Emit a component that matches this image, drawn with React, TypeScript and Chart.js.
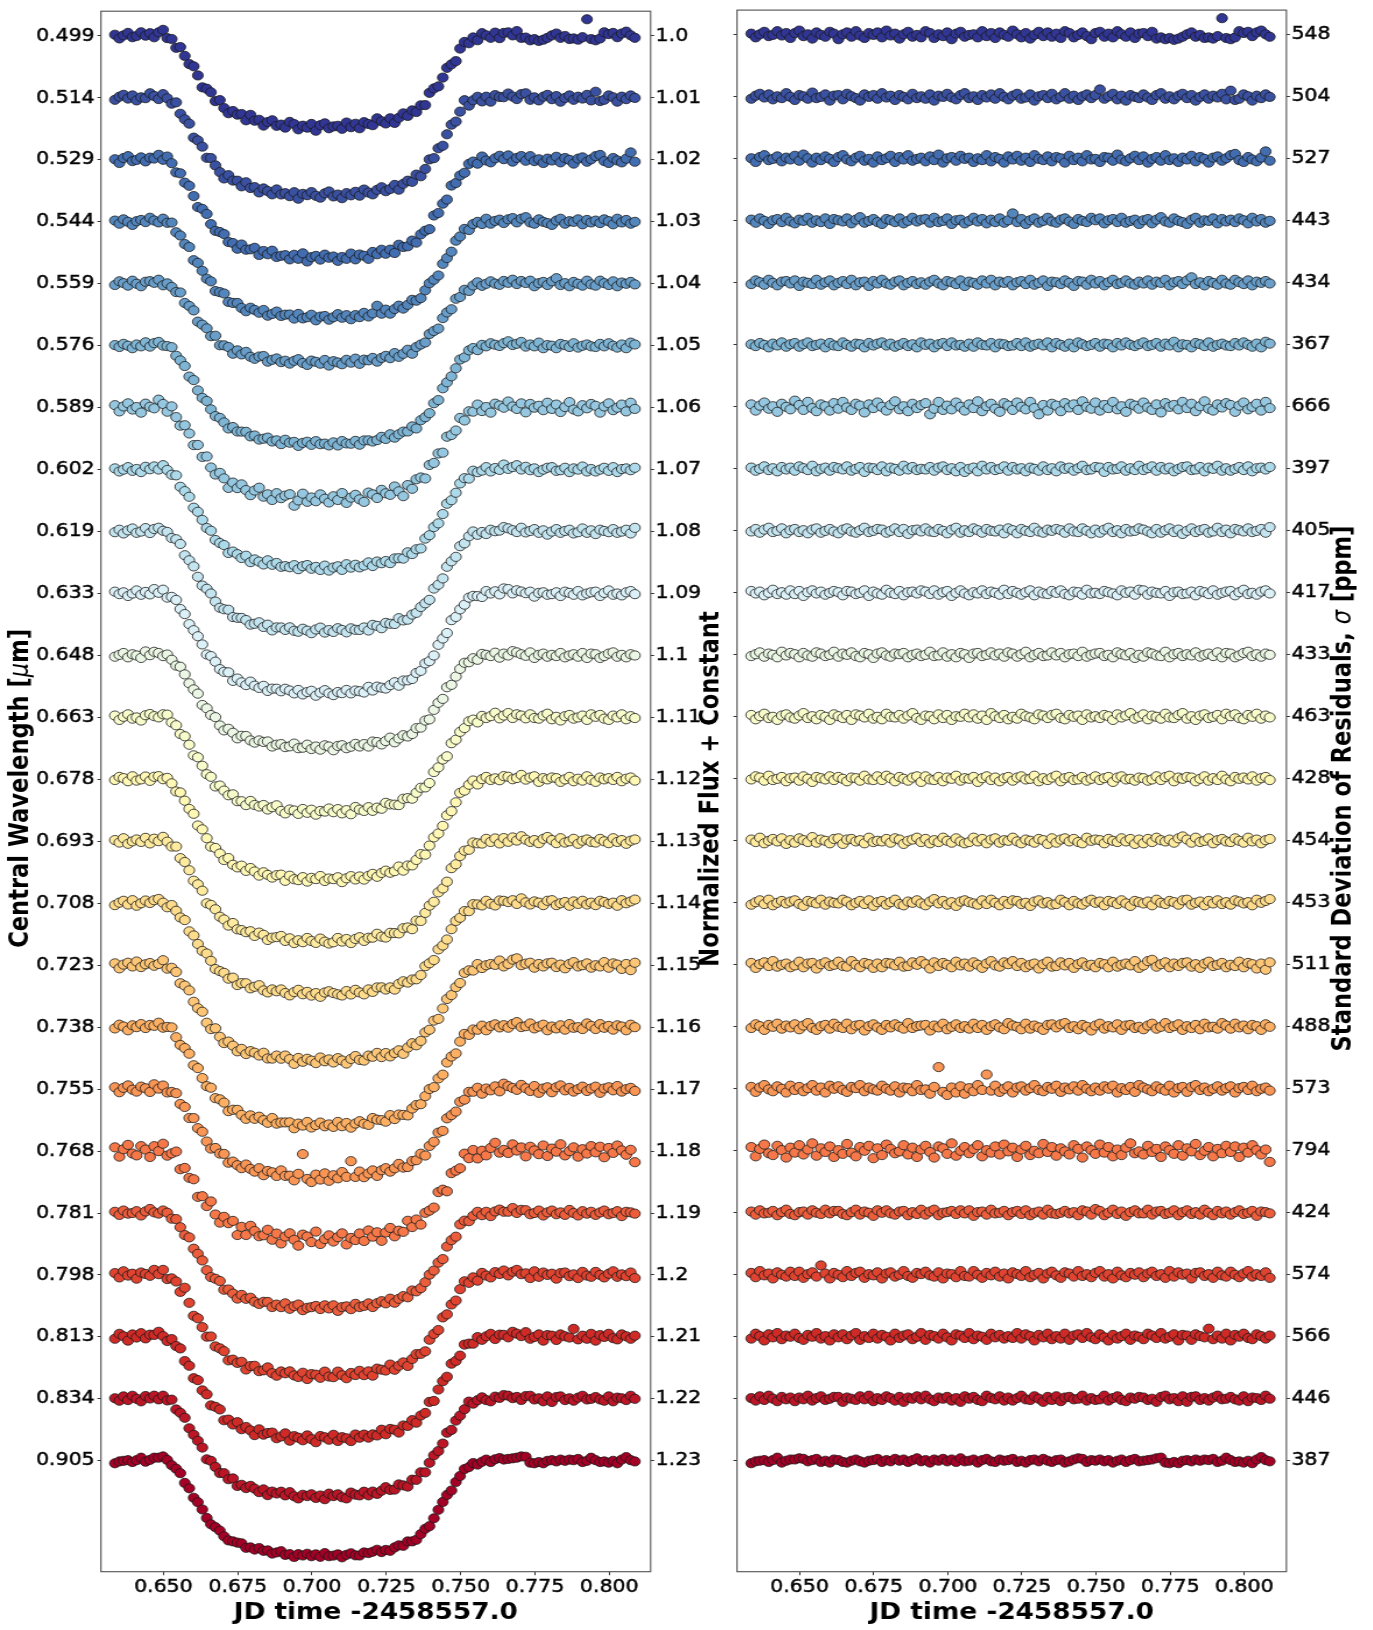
import React, { useEffect, useRef } from "react";
import { Chart, registerables } from "chart.js";

Chart.register(...registerables);

// ---------------- data ----------------
const times = [
  0.6337, 0.6352, 0.6366, 0.6381, 0.6396, 0.641, 0.6425, 0.644, 0.6455, 0.6469,
  0.6484, 0.6499, 0.6513, 0.6528, 0.6543, 0.6557, 0.6572, 0.6587, 0.6602, 0.6616,
  0.6631, 0.6646, 0.666, 0.6675, 0.669, 0.6704, 0.6719, 0.6734, 0.6749, 0.6763,
  0.6778, 0.6793, 0.6807, 0.6822, 0.6837, 0.6851, 0.6866, 0.6881, 0.6896, 0.691,
  0.6925, 0.694, 0.6954, 0.6969, 0.6984, 0.6998, 0.7013, 0.7028, 0.7043, 0.7057,
  0.7072, 0.7087, 0.7101, 0.7116, 0.7131, 0.7146, 0.716, 0.7175, 0.719, 0.7204,
  0.7219, 0.7234, 0.7248, 0.7263, 0.7278, 0.7292, 0.7307, 0.7322, 0.7337, 0.7351,
  0.7366, 0.7381, 0.7395, 0.741, 0.7425, 0.744, 0.7454, 0.7469, 0.7484, 0.7498,
  0.7513, 0.7528, 0.7542, 0.7557, 0.7572, 0.7586, 0.7601, 0.7616, 0.7631, 0.7645,
  0.766, 0.7675, 0.7689, 0.7704, 0.7719, 0.7734, 0.7748, 0.7763, 0.7778, 0.7792,
  0.7807, 0.7822, 0.7836, 0.7851, 0.7866, 0.788, 0.7895, 0.791, 0.7925, 0.7939,
  0.7954, 0.7969, 0.7983, 0.7998, 0.8013, 0.8027, 0.8042, 0.8057, 0.8072, 0.8086,
];

const wavelengthLabels = [
  "0.499", "0.514", "0.529", "0.544", "0.559", "0.576", "0.589", "0.602",
  "0.619", "0.633", "0.648", "0.663", "0.678", "0.693", "0.708", "0.723",
  "0.738", "0.755", "0.768", "0.781", "0.798", "0.813", "0.834", "0.905",
];

const fluxLabels = [
  "1.0", "1.01", "1.02", "1.03", "1.04", "1.05", "1.06", "1.07",
  "1.08", "1.09", "1.1", "1.11", "1.12", "1.13", "1.14", "1.15",
  "1.16", "1.17", "1.18", "1.19", "1.2", "1.21", "1.22", "1.23",
];

const sigmaLabels = [
  "548", "504", "527", "443", "434", "367", "666", "397",
  "405", "417", "433", "463", "428", "454", "453", "511",
  "488", "573", "794", "424", "574", "566", "446", "387",
];

const xTickValues = [0.65, 0.675, 0.7, 0.725, 0.75, 0.775, 0.8];

// vertical separation between channels (normalized flux)
const channelStep = 0.01;

// transit depth of each channel (normalized flux)
const depths = [
  0.0146, 0.0157, 0.0158, 0.0154, 0.0127, 0.0158, 0.0147, 0.0158,
  0.016, 0.016, 0.0148, 0.0152, 0.0161, 0.0161, 0.0146, 0.0154,
  0.0158, 0.014, 0.0142, 0.0153, 0.0162, 0.0164, 0.0157, 0.0153,
];

// light-curve shape (fraction of the depth) at each time
const transitShape = [
  0, 0, 0, 0, 0, 0, 0, 0.01, 0.01, 0.02, 0.02, 0.02,
  -0.01, -0.04, -0.09, -0.15, -0.22, -0.29, -0.37, -0.45, -0.52, -0.59, -0.65, -0.7, -0.75, -0.79, -0.82, -0.85, -0.87,
  -0.89, -0.905, -0.92, -0.93, -0.94, -0.95, -0.958, -0.966, -0.973, -0.98, -0.986, -0.991, -0.995, -0.998, -0.999,
  -1, -1, -1, -1, -1, -1, -1, -1,
  -0.999, -0.998, -0.995, -0.991, -0.986, -0.98, -0.973, -0.966, -0.958, -0.95, -0.94, -0.93, -0.92, -0.905,
  -0.89, -0.87, -0.85, -0.82, -0.78, -0.73, -0.67, -0.6, -0.53, -0.46, -0.38, -0.3, -0.23, -0.16, -0.1, -0.06, -0.03, -0.02, -0.01,
  0, 0, 0.01, 0.01, 0.02, 0.02, 0.02, 0.02, 0.02, 0.01, 0, 0, 0, 0,
  0, 0, 0, 0, 0, 0, 0, 0, 0, 0, 0, 0, 0, 0, 0, 0, 0, 0, 0, 0, 0,
];

// residuals of each channel, in units of 100 ppm
const residuals = [
  [2,-4,1,5,-2,0,6,-1,3,-5, 3,7,-2,1,-6,4,0,-3,5,2, -7,1,4,-3,6,-1,-5,3,0,4, -4,7,-1,2,-6,1,5,-3,0,-4, 6,3,-5,1,-2,4,-7,2,5,-3, 0,1,-4,6,-2,3,-5,4,0,-3, 7,1,-4,3,-6,0,5,-2,4,-3, 2,-5,6,3,-4,0,4,-2,-7,3, 5,-3,2,-4,6,1,-3,4,-5,2, 3,-2,5,-6,-4,-7,-5,-8,-6,-3, 1,4,-3,0,-5,-4,-6,-2,27,-5, -7,-4,6,3,5,-2,4,7,1,-3],
  [-3,2,5,-1,4,-4,1,-2,6,0, -5,3,1,-3,7,-2,0,4,-6,2, 3,-4,5,1,-2,-6,4,0,3,-3, 6,-1,2,-5,3,0,-4,5,-2,1, -3,4,-6,2,0,5,-1,-4,3,6, -2,1,-5,3,-1,4,-3,6,0,-4, 2,5,-3,-1,4,-6,1,3,-2,5, -4,0,6,-3,2,-5,1,4,-2,3, 12,-3,1,5,-4,2,-6,3,0,-2, 4,-1,-5,3,6,-3,1,-4,2,5, -2,3,-6,0,4,-3,2,-1,5,-4, 10,-5,-3,4,1,-6,2,-2,4,0],
  [1,-5,3,6,-2,0,4,-4,2,-1, 5,-3,7,1,-6,2,-2,4,0,-5, 3,6,-1,-4,2,5,-3,0,-6,4, -2,1,5,-5,3,-1,6,-3,0,2, -4,4,-2,7,-6,1,3,-3,5,0, 2,-5,1,-2,6,-4,3,0,-6,4, -1,5,-3,2,-5,6,0,-2,4,-4, 3,1,-6,5,-2,2,-4,6,-1,0, -5,3,2,-3,7,-1,-4,1,5,-2, 4,-6,0,3,-3,6,-2,1,-5,2, -1,5,-4,3,0,-6,2,4,-3,1, 6,8,-2,-5,3,-1,-4,2,12,-3],
  [2,-3,4,0,-5,1,3,-2,5,-1, -4,2,0,5,-3,1,-2,4,-5,3, 1,-1,4,-4,2,6,-3,0,3,-2, -5,3,1,-2,4,-4,0,5,-1,2, 3,-3,5,-2,0,4,-5,1,2,-4, 0,5,-1,3,-4,2,-2,4,-3,1, 12,-2,3,-5,1,4,-3,0,5,-1, -3,2,4,-1,-5,3,0,-2,5,1, 4,-4,1,3,-2,5,-3,0,2,-5, 1,3,-4,2,6,-1,-3,4,0,-2, -5,2,5,-3,1,0,4,-4,3,-1, 2,-2,4,1,-4,5,-1,3,-3,0],
  [-2,4,1,-3,5,0,-4,2,3,-1, 4,-5,2,0,-2,5,-3,1,4,-4, 0,3,-2,5,-4,1,2,-5,3,-1, 5,-1,-3,2,4,-4,0,3,-2,1, -3,2,5,-1,-4,3,1,-2,4,-5, 2,0,-3,4,-1,5,-4,2,0,3, -4,1,3,-2,5,-3,0,4,-5,2, 1,-2,4,0,-5,3,2,-3,5,-1, 3,-4,1,5,-2,0,4,-1,-3,2, -1,4,-3,2,0,5,-4,1,3,-2, 4,9,-2,1,-4,3,0,-3,5,-1, -3,5,1,-2,4,-4,2,0,3,-1],
  [1,-2,3,0,-4,2,-1,4,-3,1, 3,-3,1,4,-2,0,2,-4,3,-1, -2,4,0,-3,2,1,-4,3,-1,2, 4,-1,2,-3,0,3,-2,1,-4,4, 0,2,-4,1,3,-2,4,-1,0,-3, 2,-3,4,0,-1,3,-4,2,1,-2, -1,3,-2,4,-3,0,2,-1,4,-4, 3,0,-3,2,-4,4,1,-2,0,3, -3,2,1,-4,3,-1,4,0,-2,1, 4,-2,0,3,-3,2,-1,5,-4,1, 0,-4,3,1,-2,4,-3,0,2,-1, -2,3,-1,4,0,-3,2,-4,5,2],
  [4,-6,2,7,-3,1,-8,5,0,-4, 10,3,-5,8,-2,-7,4,1,-6,6, -3,8,-1,-5,5,2,-9,4,-2,7, 0,-6,3,9,-4,1,-7,5,-2,3, 6,-12,-3,8,-5,2,-4,7,0,-6, 4,-2,9,-7,1,5,-3,-8,6,2, -5,7,0,-4,8,-2,-12,3,-6,5, 2,-7,6,-1,4,-5,9,0,-3,7, -6,3,-2,8,-4,1,-8,5,2,-3, 7,-1,-5,4,-9,6,0,3,-4,8, -2,5,-7,1,9,-3,-6,4,-1,6, 3,-8,2,7,-4,0,5,-6,8,-2],
  [2,-3,0,4,-2,1,-4,3,-1,2, -3,4,1,-2,5,-4,0,2,-3,3, 1,-1,4,-3,0,3,-5,2,1,-2, 4,-4,2,0,-3,5,-1,3,-2,0, -1,3,-3,2,4,-2,1,-4,3,-5, 0,2,-4,5,-1,3,-2,0,4,-3, 3,-1,1,-4,2,0,-3,4,-2,1, -4,4,0,2,-3,1,5,-2,-1,3, 2,-5,3,-1,0,4,-3,1,-2,5, -2,1,4,-3,3,-1,2,-4,0,3, 4,-2,-1,3,-4,2,0,5,-3,1, -3,0,3,-2,4,-4,1,2,-1,3],
  [-1,3,-3,2,5,-2,0,4,-4,1, 3,-2,1,-4,2,4,-3,0,3,-1, -4,2,4,-1,-3,1,5,-2,0,3, 2,-3,0,4,-2,3,-5,1,2,-1, 4,-1,-2,3,0,-4,2,5,-3,1, -2,4,1,-3,3,0,-1,2,-4,4, 1,-4,3,0,-2,5,-1,-3,2,0, 3,1,-3,4,-1,-2,4,0,-4,2, -3,2,5,-2,1,-4,3,-1,0,4, 2,-1,-4,3,-3,1,4,-2,2,-5, 0,4,-2,1,3,-3,-1,5,-2,2, -4,3,1,-1,4,-2,0,3,-3,6],
  [3,-1,2,-4,0,5,-2,1,-3,4, -2,3,-5,1,4,-1,2,-3,0,3, 1,-4,3,2,-2,0,4,-5,2,-1, -3,5,0,-2,3,-4,1,2,-1,4, 2,-2,4,-3,1,3,-5,0,4,-1, -4,1,-1,4,-2,2,0,-3,5,-2, 3,0,-3,1,4,-4,2,-1,-2,3, 0,4,-2,-4,2,1,-3,5,-1,0, -2,3,1,-1,-4,4,0,2,-3,5, 4,-3,2,0,-1,3,-5,1,2,-2, -1,2,-4,3,1,-2,4,-3,0,2, 3,-4,1,5,-2,0,-3,2,4,-1],
  [-2,1,4,-3,2,0,-4,5,-1,3, 1,-4,3,-1,-3,4,2,-2,0,5, -3,2,0,4,-2,-4,3,1,-5,2, 4,-1,-3,2,1,3,-4,0,2,-2, 0,5,-2,-1,4,-3,1,-4,3,1, -5,2,3,-2,0,4,-1,2,-3,4, 2,-3,1,5,-4,0,3,-2,-1,4, -1,3,-4,1,2,-2,5,-3,0,2, 3,-2,0,-4,4,1,-1,3,-5,0, -3,4,2,-1,-2,5,-4,1,3,-2, 1,-1,4,-3,0,2,-2,4,-4,3, 2,-4,-1,3,5,-2,1,-3,2,0],
  [3,-4,1,5,-2,0,-5,2,4,-1, -3,2,6,-2,1,-4,3,0,-5,4, 1,-2,3,-5,4,2,-1,5,-3,0, -4,5,0,-1,3,-3,2,6,-2,-5, 2,1,-4,4,-2,3,-5,1,0,5, -1,4,-3,2,-5,6,1,-2,3,-4, 0,-3,5,1,-1,-4,4,2,-2,3, 5,-2,-4,3,0,2,-5,4,-1,1, -2,3,1,-5,4,-1,2,6,-3,0, 4,-4,2,0,-3,5,-1,-2,3,6, -3,1,-5,2,4,-2,0,3,-4,5, 1,4,-2,-4,3,0,5,-3,2,-1],
  [-1,4,2,-3,5,-2,0,3,-4,1, 2,-3,4,0,-5,3,1,-1,4,-2, 3,0,-4,2,1,-3,5,-1,-2,4, -2,5,1,-4,3,0,-3,2,4,-5, 4,-1,-2,3,-4,2,0,5,-3,1, 0,3,-5,1,4,-2,2,-4,1,3, -3,2,4,-1,0,5,-4,1,-2,2, 5,-4,1,3,-2,-1,3,-3,0,4, -2,1,3,-5,2,4,-1,0,-3,2, 1,-3,-1,4,-2,3,5,-4,2,0, 3,2,-4,0,4,-3,1,-2,5,-1, -4,3,0,2,-1,4,-3,1,3,-2],
  [2,-2,5,-4,0,3,-1,4,-5,1, -3,4,1,-2,6,-3,2,0,-4,3, 4,-5,2,3,-1,1,-4,5,-2,0, -1,3,-3,4,2,-5,0,2,5,-2, 3,-4,1,-2,5,0,-3,4,-1,-4, -2,5,-1,3,-4,2,4,-3,1,0, 5,-1,-4,2,0,-3,3,1,-5,4, -3,2,4,-1,3,-2,-4,5,0,2, 1,-4,3,0,-2,4,-1,3,-5,2, -4,3,-2,5,1,-1,2,-3,4,7, 2,-3,5,-2,0,4,-4,1,3,-1, -2,4,0,-3,5,-1,2,-4,1,3],
  [-3,1,4,-2,5,-4,0,3,-1,2, 4,-2,-5,3,1,-1,5,-3,2,0, -1,5,2,-4,0,3,-2,4,-5,1, 3,-3,1,5,-2,-4,2,0,4,-1, -4,2,6,-1,3,-3,1,-5,2,4, 1,-1,-3,4,-2,5,0,-4,3,-2, 4,3,-2,0,-5,2,4,-1,1,-3, -2,5,1,-4,3,-1,-3,2,5,0, 2,-4,3,1,-2,4,-1,-5,3,1, -1,2,-4,5,0,-2,3,1,-3,4, 5,-3,0,2,-4,3,-1,4,-2,1, -3,4,2,-1,1,-4,5,0,3,6],
  [3,-5,1,4,-2,6,-3,0,2,-4, -1,5,-4,2,3,-6,1,4,-2,0, 5,-2,-3,6,0,-4,3,1,-5,2, -4,3,2,-1,5,-3,-2,4,0,6, 1,-6,4,-2,3,0,-4,5,-1,2, -3,4,0,-5,2,6,-1,-3,4,1, 6,-2,3,-4,0,2,-6,1,5,-3, -2,4,-1,3,-5,1,4,-2,0,-4, 3,1,-4,5,-3,0,2,-1,6,-5, -1,6,8,-3,1,4,-4,2,-2,3, 4,-3,1,-5,2,5,-2,0,3,-4, 0,-2,5,-4,3,1,-6,2,-8,4],
  [-2,4,1,-5,3,0,5,-3,2,-1, 4,-4,2,6,-2,-5,1,3,-3,5, 0,-2,5,-4,2,3,-6,1,4,-1, -5,3,-1,4,0,-3,6,-2,1,2, 3,-6,2,-1,5,-4,0,4,-2,1, -3,5,-2,3,-5,1,4,-1,-4,6, 2,0,-4,5,-3,2,-1,-5,3,4, -1,4,6,-2,1,-4,3,0,-6,2, 5,-3,1,-1,4,-5,2,3,-2,0, -4,2,5,-3,0,6,-2,1,4,-5, 1,-2,3,-4,5,-1,0,-3,6,2, -3,5,-1,2,-4,3,1,-5,4,0],
  [3,-5,2,6,-1,-4,4,0,-6,5, -2,3,-4,1,6,-3,2,-6,5,0, 4,-2,-5,3,1,6,-4,2,-1,-3, 5,0,-3,4,-6,2,1,-4,6,-2, -1,-8,3,35,-5,-10,2,-6,4,-8, 1,-4,6,-2,23,-3,5,-5,0,4, -6,2,4,-3,1,6,-2,-4,3,0, 5,-5,2,-1,4,-3,6,0,-4,2, -3,4,0,5,-6,1,-2,3,-5,6, 2,-1,-4,4,0,-3,5,-6,1,3, -5,3,6,-2,2,-4,0,4,-3,1, 4,-6,1,3,-2,5,-4,0,2,-3],
  [6,-9,3,10,-4,-7,8,1,-11,5, -3,9,-6,2,12,-8,4,-2,7,-10, 1,-5,11,-3,-9,6,0,8,-12,4, -7,10,3,-4,-1,9,-6,5,-10,2, 8,-2,-11,7,4,-5,12,-8,0,6, -4,3,9,-9,1,-3,7,-6,10,-1, 5,-10,2,8,-7,0,-4,11,-2,6, -8,4,-1,-6,9,3,-11,7,1,-5, 10,-3,6,-9,2,-7,5,12,-4,-1, -6,8,-2,3,-10,7,1,-5,9,-8, 4,-1,11,-7,0,6,-9,3,-4,8, -2,7,-10,5,-3,9,1,-6,2,-18],
  [2,-3,4,-1,0,3,-4,1,5,-2, -4,1,2,-3,4,0,-2,5,-1,3, 3,-2,-4,1,5,-3,2,0,-5,4, 0,4,-1,-3,2,3,-4,1,-2,5, -3,2,5,-4,0,1,3,-2,4,-1, 4,-5,1,2,-3,5,-1,0,3,-4, 1,3,-2,4,-4,0,2,-3,5,-1, -2,0,3,-1,1,-4,4,2,-3,6, 3,-4,0,5,-2,2,-5,1,4,-1, -1,5,-3,2,3,-2,0,4,-4,1, 4,-2,1,-3,5,0,-4,3,-1,2, -3,1,4,-2,0,3,-5,2,1,-1],
  [3,-4,6,-1,2,-6,4,0,-3,5, -2,5,-5,1,4,-3,15,2,-6,3, 0,-4,6,-2,3,5,-5,1,-1,4, -6,2,4,-3,0,6,-2,-5,3,1, 5,-1,-3,4,-6,2,1,-4,6,-2, -3,6,0,-5,3,-1,5,-3,2,-6, 4,1,-2,6,-4,0,3,-6,2,5, -1,-5,4,2,-3,6,-2,1,-4,3, 6,-3,1,-6,5,-1,-4,3,0,4, -4,2,5,-2,1,-5,6,-3,4,0, 2,-6,3,4,-2,1,-5,5,-1,-3, 5,0,-4,2,6,-3,1,-2,4,-5],
  [-3,5,1,-6,4,-1,6,-4,2,0, 5,-2,-5,3,0,6,-3,1,-6,4, -1,4,-4,2,6,-5,1,-2,5,-3, 3,0,-6,5,-2,2,4,-4,0,6, -5,3,1,-3,5,-1,-6,4,2,-2, 6,-4,2,0,-5,5,-1,3,-3,1, -2,6,-3,4,1,-6,3,-1,5,-4, 1,-3,5,-5,2,4,-2,6,-1,-4, 4,-1,-6,3,-3,1,5,-5,2,0, -4,5,2,-2,6,-3,0,4,-6,3, 2,-5,4,1,-1,13,-4,2,-3,5, -6,3,0,5,-2,-4,4,1,-3,2],
  [1,-3,4,-2,5,0,-4,3,-1,2, -4,2,-1,5,-3,1,4,-2,0,3, 3,-5,2,0,-2,4,-1,5,-4,1, -2,4,1,-3,3,-5,2,0,4,-1, 5,-1,-4,2,0,3,-3,1,-5,4, 0,3,-2,-4,5,1,-1,4,-3,2, -3,1,5,-1,-2,4,0,-5,3,-2, 4,-4,2,3,-1,0,5,-3,1,-2, -1,5,-3,1,4,-2,-4,2,0,3, 2,-2,0,-5,3,5,-1,1,-4,4, -5,3,4,-2,1,-3,2,5,-1,0, 3,-1,-3,4,-4,2,1,-2,5,0],
  [-4,-1,0,1,-2,1,5,-3,0,2, 2,4,3,-1,1,3,-2,0,-3,2, 1,-2,-3,0,2,-1,-3,0,1,3, -2,1,-1,3,0,2,-2,1,4,-1, 1,-3,2,0,3,-1,2,-2,4,-1, 0,2,-3,1,3,-1,-2,2,0,1, 3,-2,0,-3,1,2,-1,3,0,-2, 1,2,-3,-1,2,4,3,-2,1,0, 2,-1,1,-3,0,2,-2,1,3,-1, 0,1,2,4,5,-3,-4,-2,-4,0, 1,-1,2,0,2,1,3,-2,0,5, 1,-2,-1,-3,0,-4,2,6,1,-1],
];

// ---------------- styling / layout ----------------
const S = 1.165; // horizontal stretch of the picture
const PAGE_W = 1373;
const PAGE_H = 1630;
const AREA_TOP = 5;
const AREA_BOTTOM = 1571.7;
const Y_MIN = -0.2479;
const Y_MAX = 0.004;

const FONT = "'DejaVu Sans', 'Liberation Sans', sans-serif";
const TICK_SIZE = 17.6;
const TITLE_SIZE = 22.6;
const BOLD = `bold ${TITLE_SIZE}px ${FONT}`;
const ITAL = `italic ${TITLE_SIZE}px ${FONT}`;

const RDYLBU = [
  [165, 0, 38], [215, 48, 39], [244, 109, 67], [253, 174, 97], [254, 224, 144],
  [255, 255, 191], [224, 243, 248], [171, 217, 233], [116, 173, 209], [69, 117, 180], [49, 54, 149],
];
function cmap(p: number) {
  const x = Math.max(0, Math.min(1, p)) * 10;
  const i = Math.min(9, Math.floor(x));
  const f = x - i;
  const a = RDYLBU[i];
  const b = RDYLBU[i + 1];
  const c = a.map((v, j) => Math.round(v + (b[j] - v) * f));
  return `rgb(${c[0]},${c[1]},${c[2]})`;
}
const colors = wavelengthLabels.map((_, i) => cmap(1 - i / (wavelengthLabels.length - 1)));

type Seg = { t: string; f: string };
type TitleSpec = { segs: Seg[]; x: number; y: number; rot: number };

const PANELS = {
  left: {
    canvasLeft: 0, bw: 633, areaLeft: 101, areaRight: 651, xMin: 0.629, xMax: 0.8139,
    leftLabels: wavelengthLabels as string[] | null, rightLabels: fluxLabels,
    titles: [
      { segs: [{ t: "Central Wavelength [", f: BOLD }, { t: "\u03bc", f: ITAL }, { t: "m]", f: BOLD }], x: 21, y: 788.4, rot: -Math.PI / 2 },
      { segs: [{ t: "Normalized Flux + Constant", f: BOLD }], x: 712.5, y: 789, rot: -Math.PI / 2 },
      { segs: [{ t: "JD time -2458557.0", f: BOLD }], x: 376, y: 1613, rot: 0 },
    ] as TitleSpec[],
    showModel: true,
  },
  right: {
    canvasLeft: 720, bw: 561, areaLeft: 737, areaRight: 1286, xMin: 0.6289, xMax: 0.8142,
    leftLabels: null as string[] | null, rightLabels: sigmaLabels,
    titles: [
      { segs: [{ t: "Standard Deviation of Residuals, ", f: BOLD }, { t: "\u03c3", f: ITAL }, { t: " [ppm]", f: BOLD }], x: 1344, y: 788.5, rot: -Math.PI / 2 },
      { segs: [{ t: "JD time -2458557.0", f: BOLD }], x: 1011.5, y: 1613, rot: 0 },
    ] as TitleSpec[],
    showModel: false,
  },
};

function drawRich(ctx: CanvasRenderingContext2D, segs: Seg[], x: number, y: number, rot: number) {
  ctx.save();
  ctx.translate(x, y);
  ctx.rotate(rot);
  ctx.textBaseline = "middle";
  ctx.textAlign = "left";
  ctx.fillStyle = "#000";
  let total = 0;
  for (const s of segs) {
    ctx.font = s.f;
    total += ctx.measureText(s.t).width;
  }
  let cx = -total / 2;
  for (const s of segs) {
    ctx.font = s.f;
    ctx.fillText(s.t, cx, 0);
    cx += ctx.measureText(s.t).width;
  }
  ctx.restore();
}

function buildChart(canvas: HTMLCanvasElement, key: "left" | "right") {
  const P = PANELS[key];
  const toB = (px: number) => (px - P.canvasLeft) / S;
  const aL = toB(P.areaLeft);
  const aR = toB(P.areaRight);
  const offsets = wavelengthLabels.map((_, i) => -channelStep * i);

  const datasets = wavelengthLabels.map((_, i) => {
    const n = Math.min(times.length, residuals[i].length, transitShape.length);
    const data = [];
    for (let k = 0; k < n; k++) {
      const model = P.showModel ? depths[i] * transitShape[k] : 0;
      data.push({ x: times[k], y: offsets[i] + model + residuals[i][k] * 1e-4 });
    }
    return {
      data,
      backgroundColor: colors[i],
      borderColor: "#1a1a1a",
      borderWidth: 0.8,
      pointRadius: 4.6,
      pointHoverRadius: 4.6,
      showLine: false,
      order: -i,
    };
  });

  const tickFont = { family: FONT, size: TICK_SIZE, lineHeight: 1 };
  const tickText = { color: "#000", textStrokeColor: "#000", textStrokeWidth: 0.45, autoSkip: false };
  const gridBase = { display: true, drawOnChartArea: false, drawTicks: true, tickWidth: 1, tickColor: "#333", color: "#333" };

  const framePlugin = {
    id: "frameTitles_" + key,
    afterDraw(chart: any) {
      const { ctx, chartArea: a } = chart;
      ctx.save();
      ctx.strokeStyle = "#505050";
      ctx.lineWidth = 1.1;
      ctx.strokeRect(a.left, a.top, a.right - a.left, a.bottom - a.top);
      ctx.restore();
      for (const t of P.titles) drawRich(ctx, t.segs, toB(t.x), t.y, t.rot);
    },
  };

  return new Chart(canvas, {
    type: "scatter",
    data: { datasets: datasets as any },
    options: {
      animation: false,
      responsive: false,
      devicePixelRatio: 1,
      events: [],
      layout: { padding: { top: AREA_TOP, bottom: 0, left: 0, right: 0 } },
      plugins: { legend: { display: false }, tooltip: { enabled: false } },
      scales: {
        x: {
          type: "linear",
          min: P.xMin,
          max: P.xMax,
          afterBuildTicks: (s: any) => { s.ticks = xTickValues.map((v) => ({ value: v })); },
          afterFit: (s: any) => { s.height = PAGE_H - AREA_BOTTOM; },
          ticks: { ...tickText, font: tickFont, padding: 3, maxRotation: 0, callback: (v: any) => Number(v).toFixed(3) },
          grid: { ...gridBase, tickLength: 3.5 },
          border: { display: false },
        },
        y: {
          type: "linear",
          position: "left",
          min: Y_MIN,
          max: Y_MAX,
          afterBuildTicks: (s: any) => { s.ticks = offsets.map((v) => ({ value: v })); },
          afterFit: (s: any) => { s.width = aL; },
          ticks: {
            ...tickText,
            display: !!P.leftLabels,
            font: tickFont, padding: 2.4,
            callback: (_v: any, idx: number) => (P.leftLabels ? P.leftLabels[idx] : ""),
          },
          grid: { ...gridBase, tickLength: 3 },
          border: { display: false },
        },
        y2: {
          type: "linear",
          position: "right",
          min: Y_MIN,
          max: Y_MAX,
          afterBuildTicks: (s: any) => { s.ticks = offsets.map((v) => ({ value: v })); },
          afterFit: (s: any) => { s.width = P.bw - aR; },
          ticks: {
            ...tickText,
            font: tickFont, padding: 1.3,
            callback: (_v: any, idx: number) => P.rightLabels[idx],
          },
          grid: { ...gridBase, tickLength: 3 },
          border: { display: false },
        },
      },
    } as any,
    plugins: [framePlugin as any],
  });
}

export default function App() {
  const leftRef = useRef<HTMLCanvasElement>(null);
  const rightRef = useRef<HTMLCanvasElement>(null);

  useEffect(() => {
    const charts: Chart[] = [];
    if (leftRef.current) charts.push(buildChart(leftRef.current, "left"));
    if (rightRef.current) charts.push(buildChart(rightRef.current, "right"));
    return () => charts.forEach((c) => c.destroy());
  }, []);

  const L = PANELS.left;
  const R = PANELS.right;
  return (
    <div style={{ position: "absolute", left: 0, top: 0, width: PAGE_W, height: PAGE_H, background: "#fff", overflow: "hidden" }}>
      <canvas
        ref={leftRef}
        width={L.bw}
        height={PAGE_H}
        style={{ position: "absolute", left: L.canvasLeft, top: 0, width: `${L.bw * S}px`, height: `${PAGE_H}px` }}
      />
      <canvas
        ref={rightRef}
        width={R.bw}
        height={PAGE_H}
        style={{ position: "absolute", left: R.canvasLeft, top: 0, width: `${R.bw * S}px`, height: `${PAGE_H}px` }}
      />
    </div>
  );
}
